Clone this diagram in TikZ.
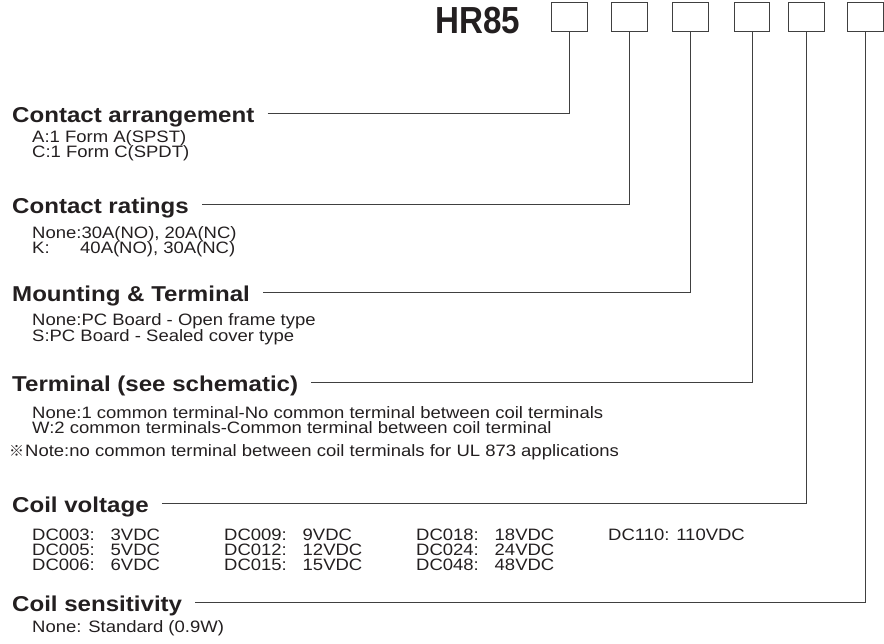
\documentclass[tikz,border=0pt]{standalone}
\usepackage{fontspec}
\setmainfont{Liberation Sans}[FakeStretch=1.12]
\newfontfamily\titlefont{Liberation Sans}[FakeStretch=0.88]
\newfontfamily\markfont{Noto Sans CJK JP}
\definecolor{ink}{RGB}{35,31,32}
\definecolor{rule}{RGB}{64,64,64}
\tikzset{
  codebox/.style={draw=rule,line width=1pt,minimum width=35.5pt,minimum height=29pt,inner sep=0pt},
  heading/.style={anchor=base west,inner sep=0pt,text=ink,font=\fontsize{21.5}{24}\selectfont\bfseries},
  entry/.style={anchor=base west,inner sep=0pt,text=ink,font=\fontsize{16.5}{18}\selectfont},
  leader/.style={draw=rule,line width=1pt}
}
\begin{document}
\begin{tikzpicture}[x=1pt,y=-1pt]
    \useasboundingbox (0,0) rectangle (884,643);
    % draw the part number
    \node[anchor=base west,inner sep=0pt,text=ink,font=\titlefont\fontsize{37.7}{40}\selectfont\bfseries] (hr) at (435,33) {HR85};
    \foreach \i/\x in {1/569.5,2/629.5,3/690.5,4/752,5/806.5,6/865.3}
        \node[codebox] (b\i) at (\x,17.3) {};
    % draw the headings
    \node[heading] (hca) at (12,122.7) {Contact arrangement};
    \node[heading] (hcr) at (12,213.3) {Contact ratings};
    \node[heading] (hmt) at (12,301) {Mounting \& Terminal};
    \node[heading] (htm) at (12,391.7) {Terminal (see schematic)};
    \node[heading] (hcv) at (12,512.5) {Coil voltage};
    \node[heading] (hcs) at (12,611.5) {Coil sensitivity};
    % draw the leaders
    \foreach \h/\b in {hca/b1,hcr/b2,hmt/b3,htm/b4,hcv/b5,hcs/b6}
        \draw[leader] (\h.base east) ++(13,-9) -| (\b.south);
    % draw the options
    \node[entry] (ca1) at (32,142.7) {A:1 Form A(SPST)};
    \node[entry] (ca2) at (32,157.7) {C:1 Form C(SPDT)};
    \node[entry] (cr1) at (32,238.3) {None:30A(NO), 20A(NC)};
    \node[entry] (cr2) at (32,253.3) {K:};
    \node[entry] (cr3) at (80,253.3) {40A(NO), 30A(NC)};
    \node[entry] (mt1) at (32,325) {None:PC Board - Open frame type};
    \node[entry] (mt2) at (32,341) {S:PC Board - Sealed cover type};
    \node[entry] (tm1) at (32,418) {None:1 common terminal-No common terminal between coil terminals};
    \node[entry] (tm2) at (32,433.3) {W:2 common terminals-Common terminal between coil terminal};
    \node[entry,font=\markfont\fontsize{15}{18}\selectfont] (mark) at (9,456.7) {※};
    \node[entry] (note) at (25,456.7) {Note:no common terminal between coil terminals for UL 873 applications};
    % draw the coil voltage table
    \foreach \c/\v/\x/\y in {DC003/3VDC/32/540,DC005/5VDC/32/555.5,DC006/6VDC/32/570.5,
                             DC009/9VDC/224/540,DC012/12VDC/224/555.5,DC015/15VDC/224/570.5,
                             DC018/18VDC/416/540,DC024/24VDC/416/555.5,DC048/48VDC/416/570.5}
    {
        \node[entry] (\c) at (\x,\y) {\c:};
        \node[entry] (\c v) at (\x+78.5,\y) {\v};
    }
    \node[entry] (DC110) at (608,540) {DC110: 110VDC};
    \node[entry] (cs1) at (32,632) {None: Standard (0.9W)};
\end{tikzpicture}
\end{document}
